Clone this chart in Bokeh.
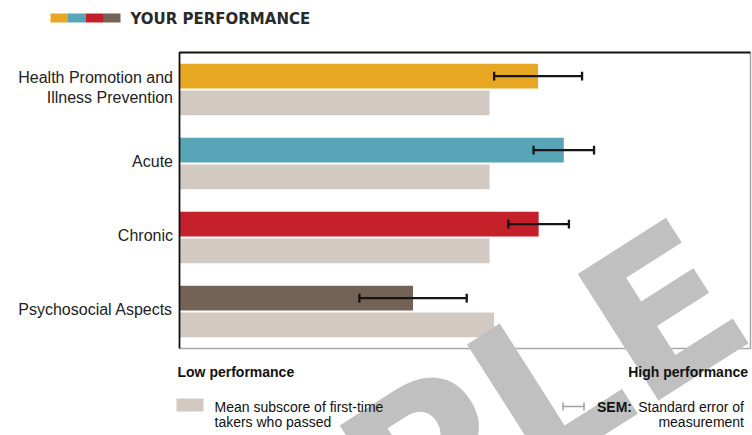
from bokeh.plotting import figure
from bokeh.models import Range1d, ColumnDataSource
from bokeh.core.properties import value
from bokeh.embed import file_html
from bokeh.resources import INLINE

# ---------------- data ----------------
categories = ["Health Promotion and\nIllness Prevention", "Acute", "Chronic", "Psychosocial Aspects"]
your_score = [62.8, 67.3, 62.9, 40.9]
passer_mean = [54.3, 54.3, 54.3, 55.1]
sem = [7.7, 5.3, 5.3, 9.4]
bar_colors = ["#E8A723", "#58A5B8", "#C4202A", "#736357"]
mean_color = "#D2C9C3"
header_text = "YOUR PERFORMANCE"
axis_low = "Low performance"
axis_high = "High performance"
legend_mean = ["Mean subscore of first-time", "takers who passed"]
legend_sem_bold = "SEM:"
legend_sem = ["Standard error of", "measurement"]
watermark = "SAMPLE"

# ---------------- layout ----------------
W, H = 752, 435
FL, FR, FT, FB = 179, 750, 52, 348      # plot box inside the canvas (px)
XMAX = 100.0
N = len(categories)
ppx = (FR - FL) / XMAX
ppy = (FB - FT) / N


def X(px):   # canvas x -> data x
    return (px - FL) / ppx


def Y(py):   # canvas y -> data y
    return (FB - py) / ppy


p = figure(width=W, height=H,
           x_range=Range1d(X(0), X(W)), y_range=Range1d(Y(H), Y(0)),
           output_backend="svg", toolbar_location=None, min_border=0,
           x_axis_location=None, y_axis_location=None,
           background_fill_color="white", border_fill_color="white",
           outline_line_color=None)
p.grid.visible = False

FONT = value("Liberation Sans")
off, bh, cap = 0.18, 0.335, 0.06
centers = [N - 0.5 - i for i in range(N)]
ytop = [c + off for c in centers]
ybot = [c - off for c in centers]
src = ColumnDataSource(dict(
    cat=categories, center=centers, ylab=[c + 2.0 / ppy for c in centers],
    ytop=ytop, ybot=ybot,
    score=your_score, mean=passer_mean, color=bar_colors,
    lo=[s - e for s, e in zip(your_score, sem)],
    hi=[s + e for s, e in zip(your_score, sem)],
    c0=[y - cap for y in ytop], c1=[y + cap for y in ytop],
))

p.hbar(y="ybot", left=0, right="mean", height=bh, fill_color=mean_color,
       line_color=None, source=src)
p.hbar(y="ytop", left=0, right="score", height=bh, fill_color="color",
       line_color=None, source=src)

ebc = "#151515"
p.segment(x0="lo", y0="ytop", x1="hi", y1="ytop", line_color=ebc, line_width=2.3, source=src)
p.segment(x0="lo", y0="c0", x1="lo", y1="c1", line_color=ebc, line_width=2.3, source=src)
p.segment(x0="hi", y0="c0", x1="hi", y1="c1", line_color=ebc, line_width=2.3, source=src)

# plot box
p.line(x=[0, XMAX, XMAX], y=[0, 0, N], line_color="#a8a8a8", line_width=1.5)
p.line(x=[0, 0, XMAX], y=[0, N, N], line_color="#111111", line_width=1.8)

# category labels
p.text(x=X(172.5), y="ylab", text="cat", source=src, text_align="right",
       text_baseline="middle", text_font=FONT, text_font_size="16px",
       text_color="#222222", text_line_height=1.22)

# watermark (anchored at the middle of the line box, right end)
p.text(x=[X(722.5)], y=[Y(274.7)], text=[watermark], angle=32.5, angle_units="deg",
       text_align="right", text_baseline="middle", text_font=value("DejaVu Sans"),
       text_font_style="bold", text_font_size="206px", text_color="#C0C0C0")

# header strip + title
seg = 17.5
p.quad(left=[X(50 + i * seg) for i in range(4)], right=[X(50 + (i + 1) * seg) for i in range(4)],
       top=Y(13), bottom=Y(22), fill_color=bar_colors, line_color=None)
p.text(x=[X(130)], y=[Y(18)], text=[header_text], text_align="left", text_baseline="middle",
       text_font=value("DejaVu Sans"), text_font_style="bold", text_font_size="15px",
       text_color="#2a2a2a")

# low / high performance
p.text(x=[X(177)], y=[Y(371.2)], text=[axis_low], text_align="left", text_baseline="middle",
       text_font=FONT, text_font_style="bold", text_font_size="14px", text_color="#111111")
p.text(x=[X(747.5)], y=[Y(371.2)], text=[axis_high], text_align="right", text_baseline="middle",
       text_font=FONT, text_font_style="bold", text_font_size="14px", text_color="#111111")

# legend: mean subscore
p.quad(left=X(176), right=X(203), top=Y(398), bottom=Y(411), fill_color=mean_color, line_color=None)
p.text(x=[X(214), X(214)], y=[Y(406.2), Y(421.8)], text=legend_mean, text_align="left",
       text_baseline="middle", text_font=FONT, text_font_size="14px", text_color="#111111")

# legend: SEM
p.quad(left=X(560), right=X(586), top=Y(398), bottom=Y(412), fill_color="white", line_color=None)
p.segment(x0=X(562), y0=Y(406), x1=X(584), y1=Y(406), line_color="#a0a0a0", line_width=1.5)
p.segment(x0=[X(562.5), X(583.5)], y0=Y(402), x1=[X(562.5), X(583.5)], y1=Y(410),
          line_color="#a0a0a0", line_width=1.5)
p.text(x=[X(596.5)], y=[Y(406.2)], text=[legend_sem_bold], text_align="left",
       text_baseline="middle", text_font=FONT, text_font_style="bold",
       text_font_size="14px", text_color="#111111")
p.text(x=[X(743.5), X(743.5)], y=[Y(406.2), Y(421.8)], text=legend_sem, text_align="right",
       text_baseline="middle", text_font=FONT, text_font_size="14px", text_color="#111111")

open("out.html", "w").write(file_html(p, INLINE))
